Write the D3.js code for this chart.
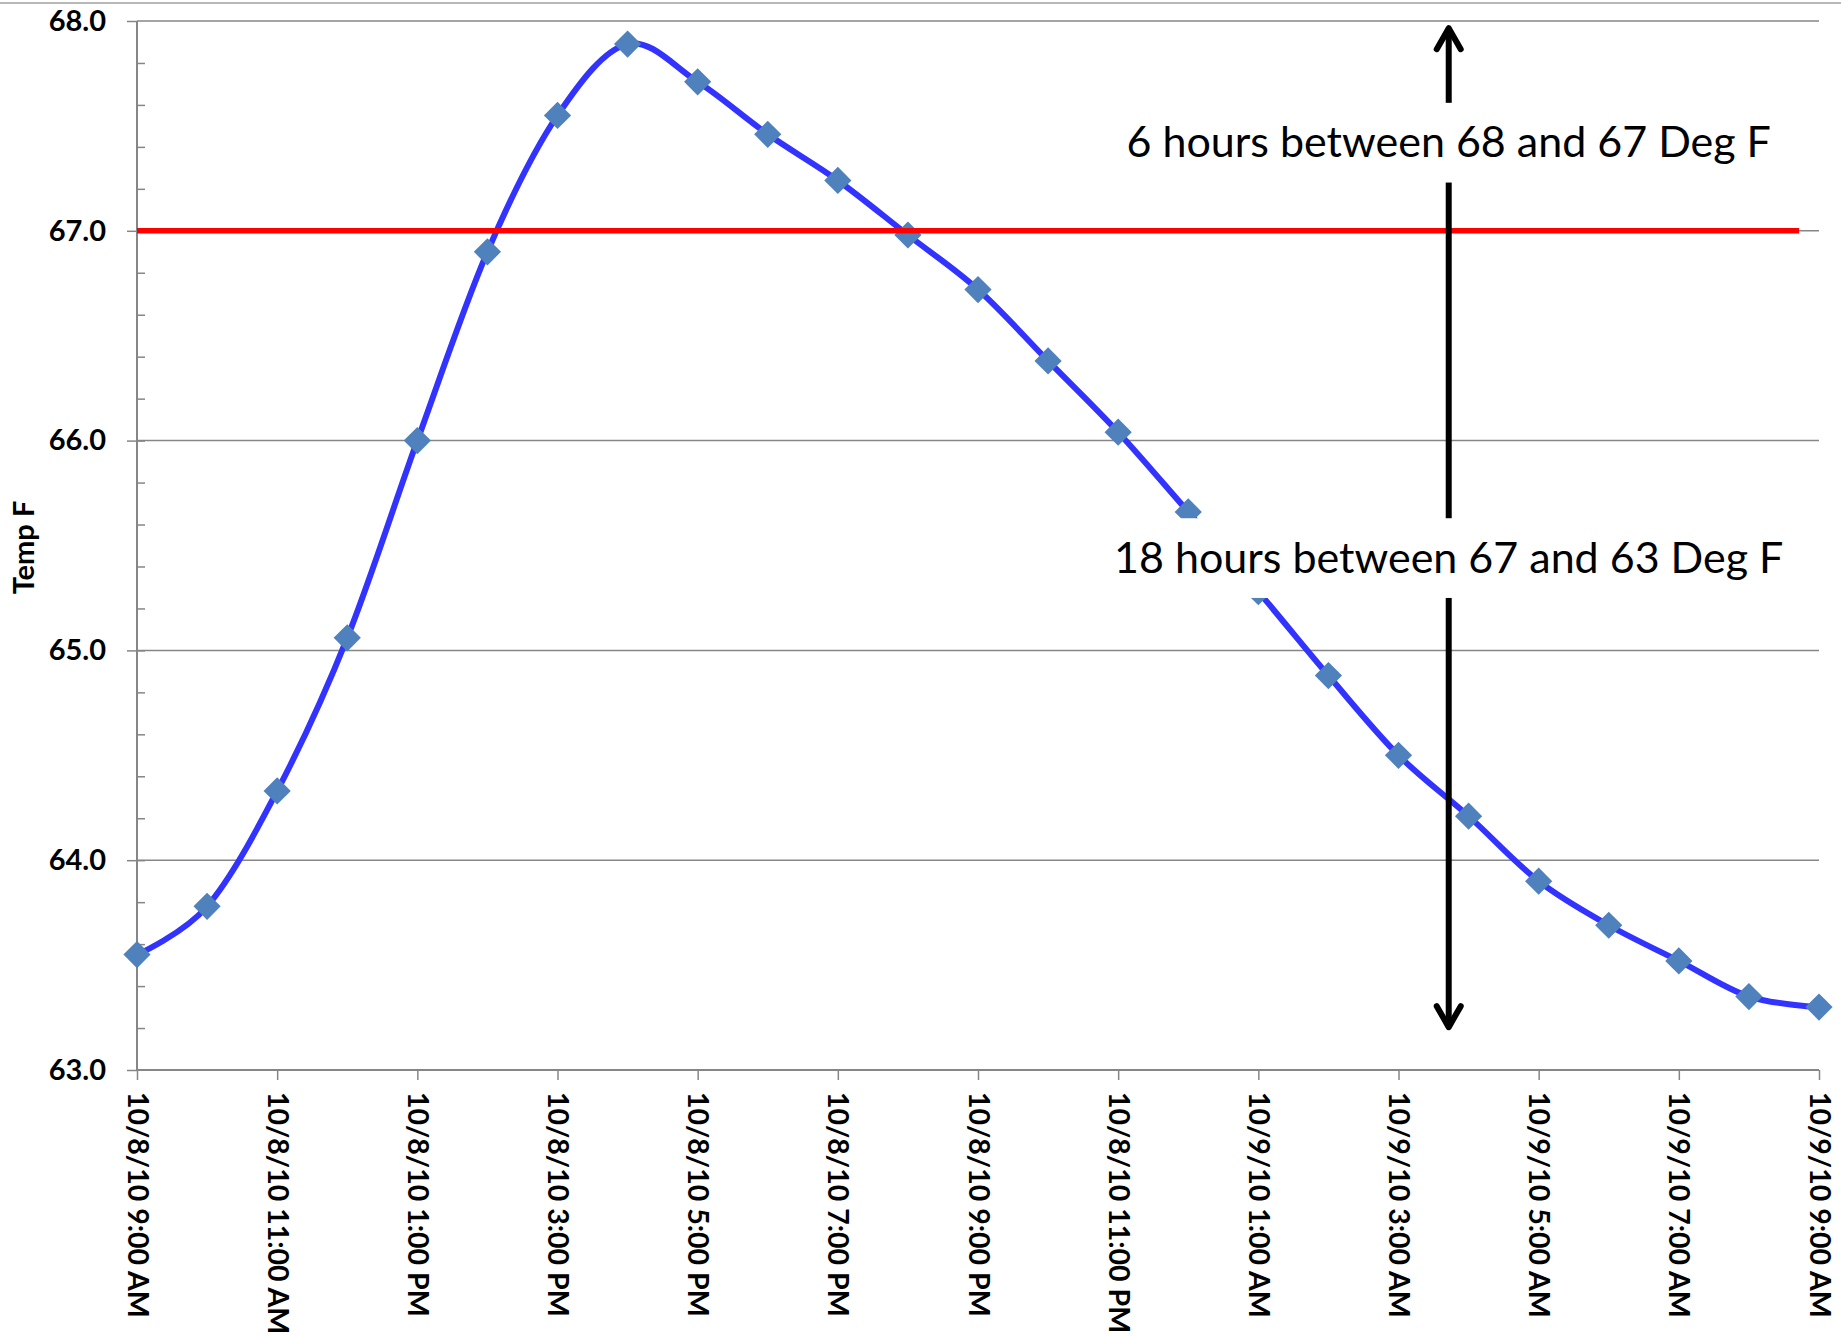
<!DOCTYPE html>
<html>
<head>
<meta charset="utf-8">
<script src="https://cdn.jsdelivr.net/npm/d3@7"></script>
<style>
    body { margin: 0; background: #fff; }
    .tick text { font-family: Lato, sans-serif; font-weight: bold; fill: #000; }
</style>
</head>
<body>
<div id="chart"></div>
<script>
// hourly readings
const times = [
    "10/8/10 9:00 AM", "10/8/10 10:00 AM", "10/8/10 11:00 AM", "10/8/10 12:00 PM",
    "10/8/10 1:00 PM", "10/8/10 2:00 PM", "10/8/10 3:00 PM", "10/8/10 4:00 PM",
    "10/8/10 5:00 PM", "10/8/10 6:00 PM", "10/8/10 7:00 PM", "10/8/10 8:00 PM",
    "10/8/10 9:00 PM", "10/8/10 10:00 PM", "10/8/10 11:00 PM", "10/9/10 12:00 AM",
    "10/9/10 1:00 AM", "10/9/10 2:00 AM", "10/9/10 3:00 AM", "10/9/10 4:00 AM",
    "10/9/10 5:00 AM", "10/9/10 6:00 AM", "10/9/10 7:00 AM", "10/9/10 8:00 AM",
    "10/9/10 9:00 AM"
];
const temps = [
    63.55, 63.78, 64.33, 65.06, 66.00, 66.90, 67.55, 67.89,
    67.71, 67.46, 67.24, 66.98, 66.72, 66.38, 66.04, 65.66,
    65.28, 64.88, 64.50, 64.21, 63.90, 63.69, 63.52, 63.35,
    63.30
];
const xTickLabels = [
    "10/8/10 9:00 AM", "10/8/10 11:00 AM", "10/8/10 1:00 PM", "10/8/10 3:00 PM",
    "10/8/10 5:00 PM", "10/8/10 7:00 PM", "10/8/10 9:00 PM", "10/8/10 11:00 PM",
    "10/9/10 1:00 AM", "10/9/10 3:00 AM", "10/9/10 5:00 AM", "10/9/10 7:00 AM",
    "10/9/10 9:00 AM"
];
const yTicks = [63, 64, 65, 66, 67, 68];
const threshold = 67;
const notes = ["6 hours between 68 and 67 Deg F", "18 hours between 67 and 63 Deg F"];

const parse = d3.timeParse("%m/%d/%y %I:%M %p");
const data = times.map((t, i) => ({ time: parse(t), temp: temps[i] }));

const W = 1841, H = 1336;
const margin = { top: 21, right: 22, bottom: 266, left: 137 };
const width = W - margin.left - margin.right,
    height = H - margin.top - margin.bottom;

const svg = d3.select("#chart").append("svg")
    .attr("width", W).attr("height", H);

// outer chart border (top edge only visible)
svg.append("line")
    .attr("x1", 0).attr("x2", W).attr("y1", 3).attr("y2", 3)
    .attr("stroke", "#a0a0a0").attr("stroke-width", 1.5);

const chart = svg.append("g")
    .attr("transform", `translate(${margin.left},${margin.top})`);

const x = d3.scaleTime().domain(d3.extent(data, d => d.time)).range([0, width]);
const y = d3.scaleLinear().domain([63, 68]).range([height, 0]);

// grid
chart.append("g")
    .selectAll("line").data(yTicks.slice(1)).enter().append("line")
    .attr("x1", 0).attr("x2", width)
    .attr("y1", d => y(d)).attr("y2", d => y(d))
    .attr("stroke", "#868686").attr("stroke-width", 1.5);

// minor y ticks
chart.append("g")
    .call(d3.axisRight(y).tickValues(d3.range(63.2, 68, 0.2)).tickSize(8).tickFormat(""))
    .call(g => g.select(".domain").remove())
    .call(g => g.selectAll("line").attr("stroke", "#868686").attr("stroke-width", 1.5));

// y axis
chart.append("g")
    .call(d3.axisLeft(y).tickValues(yTicks).tickSize(10).tickPadding(21).tickFormat(d3.format(".1f")))
    .call(g => g.select(".domain").attr("stroke", "#868686").attr("stroke-width", 2).attr("d", `M0,${height}V0`))
    .call(g => g.selectAll("line").attr("stroke", "#868686").attr("stroke-width", 1.5))
    .call(g => g.selectAll("text").style("font-size", "29px"));

// x axis
chart.append("g")
    .attr("transform", `translate(0,${height})`)
    .call(d3.axisBottom(x).tickValues(xTickLabels.map(parse)).tickSize(10)
        .tickFormat((d, i) => xTickLabels[i]))
    .call(g => g.select(".domain").attr("stroke", "#868686").attr("stroke-width", 2).attr("d", `M0,0H${width}`))
    .call(g => g.selectAll("line").attr("stroke", "#868686").attr("stroke-width", 1.5))
    .call(g => g.selectAll("text")
        .style("font-size", "28.5px")
        .attr("text-anchor", "start")
        .attr("dy", "0.35em")
        .attr("y", 0)
        .attr("transform", "translate(0,22) rotate(90)"));

// y axis title
svg.append("text")
    .attr("transform", `translate(34,${margin.top + height / 2 + 2}) rotate(-90)`)
    .attr("text-anchor", "middle")
    .style("font-family", "Lato, sans-serif").style("font-weight", "bold").style("font-size", "29px")
    .text("Temp F");

// series
const line = d3.line()
    .x(d => x(d.time))
    .y(d => y(d.temp))
    .curve(d3.curveCardinal.tension(0));

chart.append("path")
    .datum(data)
    .attr("fill", "none")
    .attr("stroke", "#3333ff")
    .attr("stroke-width", 6)
    .attr("d", line);

chart.selectAll(".dot")
    .data(data)
    .enter().append("path")
    .attr("class", "dot")
    .attr("d", d3.symbol(d3.symbolSquare, 370))
    .attr("transform", d => `translate(${x(d.time)},${y(d.temp)}) rotate(45)`)
    .attr("fill", "#4f81bd");

// 67 F threshold
chart.append("line")
    .attr("x1", 0).attr("x2", x(parse("10/9/10 8:43 AM")))
    .attr("y1", y(threshold)).attr("y2", y(threshold))
    .attr("stroke", "#ff0000").attr("stroke-width", 5.5);

// double arrow
const ax = x(parse("10/9/10 3:43 AM"));
const yTop = y(67.98), yBot = y(63.19);
chart.append("line")
    .attr("x1", ax).attr("x2", ax).attr("y1", yTop + 3).attr("y2", yBot - 3)
    .attr("stroke", "#000").attr("stroke-width", 6);
chart.append("path")
    .attr("d", `M${ax - 12},${yTop + 24}L${ax},${yTop + 3}L${ax + 12},${yTop + 24}` +
        `M${ax - 12},${yBot - 24}L${ax},${yBot - 3}L${ax + 12},${yBot - 24}`)
    .attr("fill", "none").attr("stroke", "#000").attr("stroke-width", 6)
    .attr("stroke-linecap", "round").attr("stroke-linejoin", "round");

// text boxes
const boxes = [
    { text: notes[0], top: 67.61, bottom: 67.23, base: 67.35 },
    { text: notes[1], top: 65.63, bottom: 65.25, base: 65.37 }
];
boxes.forEach(b => {
    const g = chart.append("g");
    const t = g.append("text")
        .attr("x", ax).attr("y", y(b.base))
        .attr("text-anchor", "middle")
        .style("font-family", "Lato, sans-serif").style("font-size", "43px")
        .text(b.text);
    const w = t.node().getComputedTextLength();
    g.insert("rect", "text")
        .attr("x", ax - w / 2 - 14).attr("width", w + 28)
        .attr("y", y(b.top)).attr("height", y(b.bottom) - y(b.top))
        .attr("fill", "#fff");
});
</script>
</body>
</html>
